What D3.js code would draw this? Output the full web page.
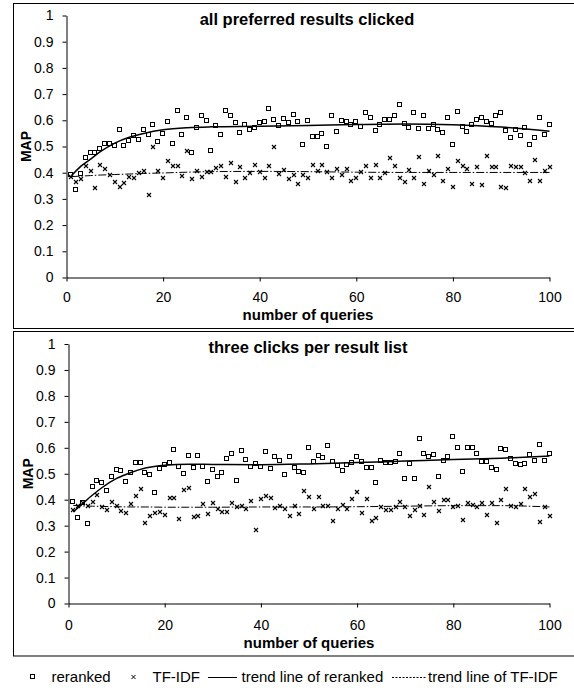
<!DOCTYPE html>
<html>
<head>
<meta charset="utf-8">
<script src="https://cdn.jsdelivr.net/npm/d3@7"></script>
<style>
  body { margin: 0; background: #fff; }
  svg { display: block; font-family: "Liberation Sans", Arial, sans-serif; }
</style>
</head>
<body>
<div id="chart"></div>
<script>
// MAP per query (query number = index + 1)
const allClickedReranked = [
  0.39, 0.333, 0.396, 0.456, 0.475, 0.475, 0.491, 0.508, 0.508, 0.503,
  0.564, 0.503, 0.52, 0.539, 0.524, 0.564, 0.543, 0.583, 0.519, 0.548,
  0.595, 0.51, 0.634, 0.545, 0.608, 0.477, 0.57, 0.615, 0.599, 0.481,
  0.579, 0.542, 0.634, 0.618, 0.589, 0.551, 0.583, 0.564, 0.57, 0.589,
  0.592, 0.643, 0.602, 0.579, 0.606, 0.589, 0.62, 0.594, 0.505, 0.597,
  0.536, 0.538, 0.547, 0.5, 0.616, 0.556, 0.597, 0.592, 0.582, 0.592,
  0.576, 0.627, 0.607, 0.559, 0.582, 0.603, 0.603, 0.615, 0.657, 0.584,
  0.57, 0.627, 0.568, 0.615, 0.567, 0.583, 0.563, 0.551, 0.609, 0.507,
  0.632, 0.573, 0.556, 0.583, 0.6, 0.608, 0.595, 0.587, 0.616, 0.627,
  0.558, 0.531, 0.562, 0.541, 0.572, 0.507, 0.532, 0.608, 0.545, 0.583
];
const allClickedTfidf = [
  0.385, 0.363, 0.376, 0.426, 0.405, 0.341, 0.43, 0.415, 0.392, 0.363,
  0.344, 0.361, 0.382, 0.379, 0.398, 0.408, 0.313, 0.5, 0.407, 0.381,
  0.443, 0.427, 0.425, 0.389, 0.482, 0.376, 0.405, 0.385, 0.402, 0.402,
  0.418, 0.424, 0.385, 0.437, 0.363, 0.42, 0.378, 0.398, 0.43, 0.401,
  0.381, 0.427, 0.5, 0.396, 0.411, 0.376, 0.391, 0.358, 0.391, 0.378,
  0.43, 0.406, 0.43, 0.401, 0.378, 0.415, 0.391, 0.415, 0.37, 0.381,
  0.401, 0.426, 0.381, 0.43, 0.378, 0.398, 0.456, 0.426, 0.381, 0.363,
  0.411, 0.378, 0.46, 0.358, 0.407, 0.391, 0.462, 0.37, 0.415, 0.347,
  0.443, 0.424, 0.414, 0.355, 0.421, 0.353, 0.462, 0.421, 0.421, 0.347,
  0.342, 0.426, 0.421, 0.421, 0.398, 0.368, 0.447, 0.368, 0.407, 0.421
];
const threeClicksReranked = [
  0.392, 0.328, 0.386, 0.305, 0.45, 0.472, 0.463, 0.432, 0.486, 0.514,
  0.509, 0.467, 0.501, 0.542, 0.542, 0.504, 0.496, 0.424, 0.519, 0.535,
  0.54, 0.591, 0.527, 0.5, 0.568, 0.523, 0.568, 0.527, 0.47, 0.514,
  0.488, 0.501, 0.555, 0.575, 0.473, 0.586, 0.554, 0.527, 0.536, 0.527,
  0.584, 0.517, 0.565, 0.548, 0.495, 0.564, 0.524, 0.508, 0.502, 0.601,
  0.545, 0.568, 0.562, 0.607, 0.545, 0.529, 0.509, 0.535, 0.54, 0.563,
  0.544, 0.523, 0.522, 0.463, 0.549, 0.54, 0.542, 0.545, 0.578, 0.478,
  0.538, 0.478, 0.634, 0.576, 0.565, 0.571, 0.488, 0.548, 0.564, 0.64,
  0.601, 0.508, 0.599, 0.601, 0.576, 0.545, 0.545, 0.524, 0.515, 0.595,
  0.591, 0.558, 0.536, 0.532, 0.537, 0.571, 0.549, 0.61, 0.549, 0.576
];
const threeClicksTfidf = [
  0.36, 0.375, 0.386, 0.375, 0.392, 0.419, 0.37, 0.36, 0.391, 0.375,
  0.356, 0.349, 0.383, 0.414, 0.442, 0.312, 0.338, 0.348, 0.352, 0.341,
  0.405, 0.406, 0.325, 0.438, 0.446, 0.334, 0.339, 0.382, 0.343, 0.388,
  0.365, 0.352, 0.352, 0.388, 0.371, 0.376, 0.366, 0.396, 0.285, 0.404,
  0.415, 0.407, 0.368, 0.376, 0.366, 0.338, 0.376, 0.344, 0.433, 0.411,
  0.365, 0.409, 0.376, 0.376, 0.317, 0.364, 0.38, 0.364, 0.401, 0.429,
  0.349, 0.401, 0.319, 0.328, 0.37, 0.359, 0.359, 0.373, 0.392, 0.373,
  0.337, 0.362, 0.376, 0.341, 0.45, 0.392, 0.356, 0.4, 0.4, 0.371,
  0.376, 0.321, 0.388, 0.379, 0.37, 0.387, 0.341, 0.389, 0.312, 0.397,
  0.443, 0.374, 0.37, 0.382, 0.442, 0.411, 0.421, 0.314, 0.371, 0.338
];

// trend lines at these query numbers
const trendQueries = [1, 3, 5, 7, 10, 13, 16, 20, 25, 30, 40, 50, 60, 70, 80, 90, 100];
const allClickedRerankedTrend = [0.388, 0.425, 0.452, 0.48, 0.513, 0.535, 0.55, 0.564, 0.572, 0.575, 0.577, 0.58, 0.584, 0.586, 0.583, 0.574, 0.558];
const allClickedTfidfTrend = [0.385, 0.387, 0.389, 0.391, 0.393, 0.395, 0.397, 0.399, 0.402, 0.404, 0.405, 0.404, 0.402, 0.401, 0.401, 0.401, 0.401];
const threeClicksRerankedTrend = [0.353, 0.386, 0.418, 0.447, 0.482, 0.505, 0.522, 0.533, 0.537, 0.536, 0.535, 0.538, 0.543, 0.549, 0.555, 0.56, 0.568];
const threeClicksTfidfTrend = [0.378, 0.376, 0.375, 0.374, 0.373, 0.372, 0.372, 0.371, 0.371, 0.371, 0.372, 0.372, 0.373, 0.375, 0.377, 0.377, 0.372];

const xTicks = [0, 20, 40, 60, 80, 100];
const yTicks = [0, 0.1, 0.2, 0.3, 0.4, 0.5, 0.6, 0.7, 0.8, 0.9, 1];
const titles = ["all preferred results clicked", "three clicks per result list"];
const legendLabels = ["reranked", "TF-IDF", "trend line of reranked", "trend line of TF-IDF"];

const W = 574, H = 688;

const svg = d3.select("#chart")
  .append("svg")
  .attr("width", W)
  .attr("height", H);

// frame + plot area of each panel
const panels = [
  { title: titles[0], reranked: allClickedReranked, tfidf: allClickedTfidf,
    rTrend: allClickedRerankedTrend, tTrend: allClickedTfidfTrend,
    frame: [13.5, 3.5, 328.5], left: 66.5, right: 549.5, top: 15.5, bottom: 277.5,
    mapX: 26, xPad: 11, xTitleY: 319.5 },
  { title: titles[1], reranked: threeClicksReranked, tfidf: threeClicksTfidf,
    rTrend: threeClicksRerankedTrend, tTrend: threeClicksTfidfTrend,
    frame: [13.5, 331.5, 656], left: 68.5, right: 549.5, top: 344, bottom: 603.5,
    mapX: 28, xPad: 12.5, xTitleY: 647.5 }
];

panels.forEach(p => {
  const g = svg.append("g");

  // panel border (right edge falls outside the picture)
  g.append("rect")
    .attr("x", p.frame[0]).attr("y", p.frame[1])
    .attr("width", W + 10).attr("height", p.frame[2] - p.frame[1])
    .attr("fill", "none").attr("stroke", "#000").attr("stroke-width", 1);

  const x = d3.scaleLinear().domain([0, 100]).range([p.left, p.right]);
  const y = d3.scaleLinear().domain([0, 1]).range([p.bottom, p.top]);

  const yAxis = g.append("g")
    .attr("transform", `translate(${p.left},0)`)
    .call(d3.axisLeft(y).tickValues(yTicks).tickSizeInner(4).tickSizeOuter(0)
      .tickPadding(9).tickFormat(d3.format("~g")));

  const xAxis = g.append("g")
    .attr("transform", `translate(0,${p.bottom})`)
    .call(d3.axisBottom(x).tickValues(xTicks).tickSizeInner(4).tickSizeOuter(0)
      .tickPadding(p.xPad));

  [yAxis, xAxis].forEach(a => {
    a.selectAll("path, line").attr("stroke", "#000");
    a.selectAll("text").attr("fill", "#000").style("font-size", "14px");
  });

  // titles
  g.append("text")
    .attr("x", (p.left + p.right) / 2 - 1)
    .attr("y", p.top + 9)
    .attr("text-anchor", "middle")
    .style("font-size", "16.5px").style("font-weight", "bold")
    .text(p.title);

  g.append("text")
    .attr("x", (p.left + p.right) / 2)
    .attr("y", p.xTitleY)
    .attr("text-anchor", "middle")
    .style("font-size", "15px").style("font-weight", "bold")
    .text("number of queries");

  g.append("text")
    .attr("transform", `translate(${p.mapX + 5},${(p.top + p.bottom) / 2}) rotate(-90)`)
    .attr("text-anchor", "middle")
    .style("font-size", "14px").style("font-weight", "bold")
    .text("MAP");

  // reranked: open squares
  g.selectAll(".sq")
    .data(p.reranked)
    .enter().append("rect")
    .attr("x", (d, i) => Math.round(x(i + 1)) - 2.5)
    .attr("y", d => Math.round(y(d)) - 2.5)
    .attr("width", 4).attr("height", 4)
    .attr("fill", "#fff").attr("stroke", "#000").attr("stroke-width", 1);

  // TF-IDF: crosses
  g.selectAll(".cr")
    .data(p.tfidf)
    .enter().append("path")
    .attr("transform", (d, i) => `translate(${Math.round(x(i + 1))},${Math.round(y(d))})`)
    .attr("d", "M-2,-2L2,2M-2,2L2,-2")
    .attr("stroke", "#000").attr("stroke-width", 1.1).attr("fill", "none");

  const trend = d3.line()
    .x((d, i) => x(trendQueries[i]))
    .y(d => y(d))
    .curve(d3.curveMonotoneX);

  g.append("path")
    .datum(p.tTrend)
    .attr("d", trend)
    .attr("fill", "none").attr("stroke", "#000").attr("stroke-width", 1)
    .attr("stroke-dasharray", "8,2,1.5,2");

  g.append("path")
    .datum(p.rTrend)
    .attr("d", trend)
    .attr("fill", "none").attr("stroke", "#000").attr("stroke-width", 1.5);
});

// legend
const ly = 677;
const legend = svg.append("g").style("font-size", "15px");

legend.append("rect")
  .attr("x", 30.5).attr("y", ly - 2.5).attr("width", 4).attr("height", 4)
  .attr("fill", "#fff").attr("stroke", "#000");
legend.append("text").attr("x", 51.5).attr("y", ly + 5).text(legendLabels[0]);

legend.append("path")
  .attr("transform", `translate(133.5,${ly})`)
  .attr("d", "M-2,-2L2,2M-2,2L2,-2")
  .attr("stroke", "#000").attr("fill", "none");
legend.append("text").attr("x", 152.5).attr("y", ly + 5).text(legendLabels[1]);

legend.append("line")
  .attr("x1", 208).attr("x2", 237).attr("y1", ly + 0.5).attr("y2", ly + 0.5)
  .attr("stroke", "#000").attr("stroke-width", 1);
legend.append("text").attr("x", 241.5).attr("y", ly + 5).text(legendLabels[2]);

legend.append("line")
  .attr("x1", 392).attr("x2", 426).attr("y1", ly + 0.5).attr("y2", ly + 0.5)
  .attr("stroke", "#000").attr("stroke-width", 1).attr("stroke-dasharray", "2,1.5");
legend.append("text").attr("x", 428).attr("y", ly + 5).text(legendLabels[3]);
</script>
</body>
</html>
